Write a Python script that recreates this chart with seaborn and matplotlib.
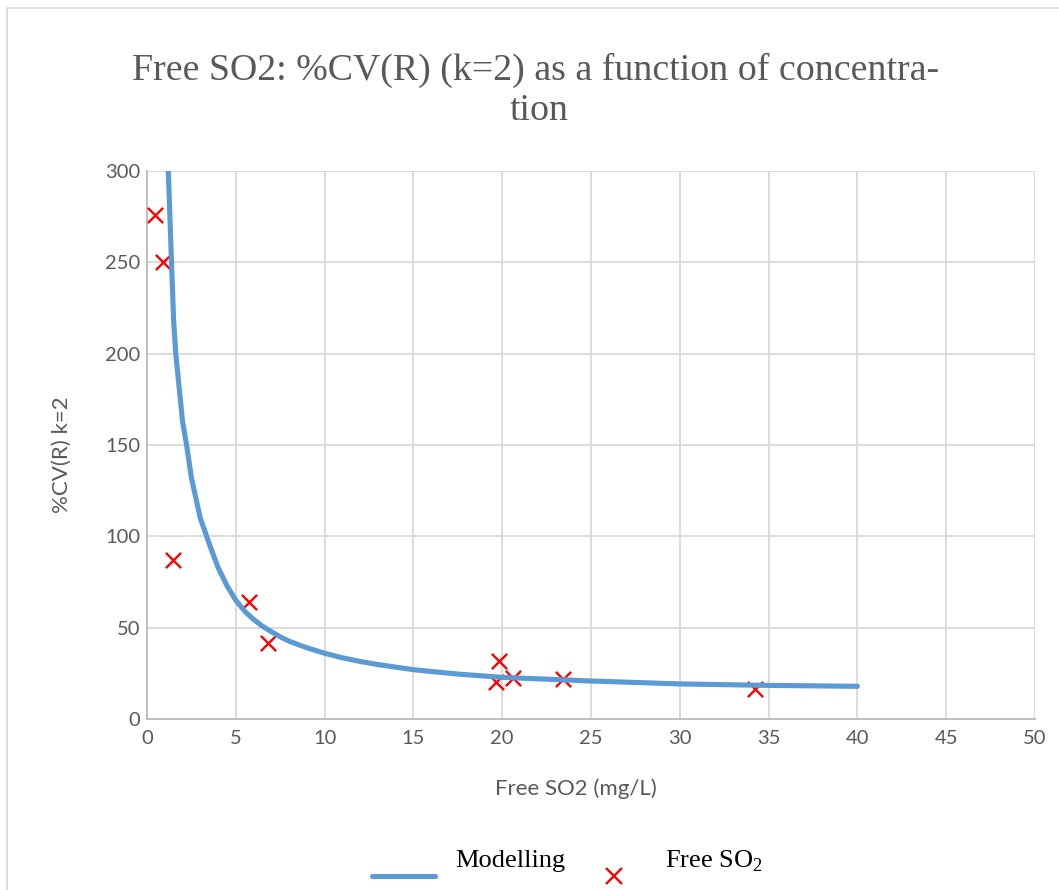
import matplotlib
matplotlib.use("Agg")
import matplotlib.pyplot as plt
from matplotlib.lines import Line2D
import numpy as np
import seaborn as sns

sns.set_theme(style="white")
plt.rcParams['font.family'] = ['Lato', 'DejaVu Sans']
plt.rcParams['mathtext.fontset'] = 'custom'
plt.rcParams['mathtext.rm'] = 'Liberation Serif'

# ─── DATA ────────────────────────────────────────────────────────────────────
# modelled %CV(R) curve
X_MODEL = [1.2, 1.38, 1.5, 1.62, 2.0, 2.23, 2.5, 3.0, 3.36, 3.5, 4.0, 4.5, 5.0,
           5.5, 6.0, 6.5, 7.0, 7.5, 8.0, 9.0, 10.0, 11.0, 12.0, 13.0, 15.0,
           17.5, 20.0, 25.0, 30.0, 35.0, 40.0]
Y_MODEL = [300, 250, 218, 200, 163, 150, 132, 110, 100, 96, 83, 73, 65,
           59, 54.5, 50.8, 47.8, 45, 42.6, 39, 36, 33.5, 31.5, 29.8, 27,
           24.6, 22.8, 20.8, 19.2, 18.4, 17.9]
# measured Free SO2 points
X_MEAS = [0.45, 0.92, 1.45, 5.76, 6.8, 19.8, 19.63, 20.63, 23.44, 34.23]
Y_MEAS = [276, 250, 87, 64.2, 41.8, 31.8, 20.4, 22.3, 21.9, 16.3]

X_TICKS = list(range(0, 51, 5))
Y_TICKS = list(range(0, 301, 50))

GRAY_TXT = '#595959'
W, H = 1059, 890

fig = plt.figure(figsize=(W / 100, H / 100), dpi=100)
ax = fig.add_axes([147 / W, (H - 719) / H, (1035 - 147) / W, (719 - 171) / H])

sns.scatterplot(x=X_MEAS, y=Y_MEAS, ax=ax, marker='x', color='#ff0000',
                s=120, linewidth=1.7, zorder=3)
sns.lineplot(x=X_MODEL, y=Y_MODEL, ax=ax, color='#5b9bd5', linewidth=3.7,
             sort=False, estimator=None, zorder=4, solid_capstyle='round')

ax.set_xlim(0, 50)
ax.set_ylim(0, 300)
ax.set_xticks(X_TICKS)
ax.set_yticks(Y_TICKS)
ax.grid(True, color='#d9d9d9', linewidth=1.3)
ax.set_axisbelow(True)
for side in ['top', 'right']:
    ax.spines[side].set_visible(False)
for side in ['left', 'bottom']:
    ax.spines[side].set_color('#bfbfbf')
    ax.spines[side].set_linewidth(1.4)
ax.tick_params(axis='both', length=0, labelsize=14.5, labelcolor=GRAY_TXT)
ax.tick_params(axis='y', pad=5)
ax.tick_params(axis='x', pad=8)

ax.set_xlabel('Free SO2 (mg/L)', fontsize=16, color=GRAY_TXT, va='center')
ax.xaxis.set_label_coords((576 - 147) / 888, -(789 - 719) / 548)
ax.set_ylabel('%CV(R) k=2', fontsize=16, color=GRAY_TXT, va='center')
ax.yaxis.set_label_coords((62 - 147) / 888, (719 - 455) / 548)

# title (wrapped like the original)
fig.text(536 / W, 1 - 80 / H, 'Free SO2: %CV(R) (k=2) as a function of concentra-',
         ha='center', va='baseline', fontsize=27.3, family='Liberation Serif', color=GRAY_TXT)
fig.text(539 / W, 1 - 120 / H, 'tion',
         ha='center', va='baseline', fontsize=27.3, family='Liberation Serif', color=GRAY_TXT)

# legend, laid out like the Excel one
fig.add_artist(Line2D([372 / W, 435 / W], [1 - 876 / H, 1 - 876 / H], transform=fig.transFigure,
                      color='#5b9bd5', linewidth=3.7, solid_capstyle='round'))
fig.text(455 / W, 1 - 867 / H, 'Modelling', ha='left', va='baseline',
         fontsize=19, family='Liberation Serif', color='black')
fig.add_artist(Line2D([614 / W], [1 - 876 / H], transform=fig.transFigure, linestyle='none',
                      marker='x', markersize=11, markeredgewidth=1.7, color='#ff0000'))
fig.text(665 / W, 1 - 867 / H, 'Free SO$_2$', ha='left', va='baseline',
         fontsize=19, family='Liberation Serif', color='black')

# chart frame (only top and left edges are in view)
fig.add_artist(Line2D([7 / W, 7 / W, 1.0], [0.0, 1 - 8 / H, 1 - 8 / H], transform=fig.transFigure,
                      color='#d9d9d9', linewidth=1.3))

fig.savefig('out.png', dpi=100)
